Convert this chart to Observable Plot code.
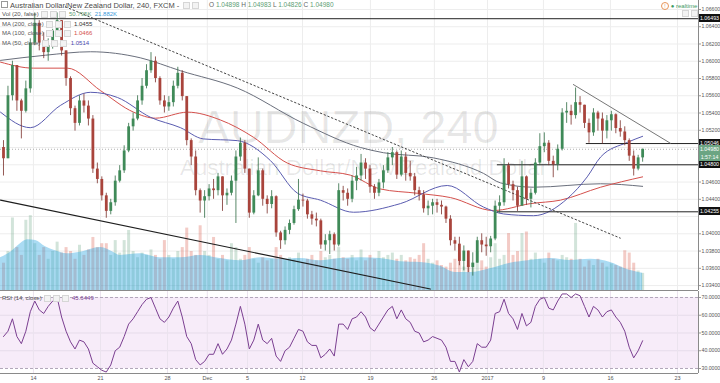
<!DOCTYPE html>
<html><head><meta charset="utf-8">
<script src="https://cdn.jsdelivr.net/npm/d3@7"></script>
<script src="https://cdn.jsdelivr.net/npm/@observablehq/plot@0.6"></script>
<style>
body{margin:0;background:#fff;font-family:"Liberation Sans",Arial,sans-serif;}
#wrap{position:relative;width:720px;height:383px;overflow:hidden;background:#fff;}
#wrap svg{position:absolute;left:0;}
.t{position:absolute;white-space:nowrap;line-height:1;font-family:"Liberation Sans",Arial,sans-serif;}
.ic{display:inline-block;width:5px;height:5px;border:1px solid #d6d6d6;background:#f3f3f3;margin-left:2px;vertical-align:middle;}
.box{position:absolute;left:699px;width:21px;height:8px;color:#fff;font-size:5.3px;line-height:8px;text-align:center;font-family:"Liberation Sans",Arial,sans-serif;}
</style></head><body><div id="wrap"></div>
<script>
// ---- data ----
const firstOpen = 1.0500;
const closes = [
1.0487,1.0560,1.0595,1.0554,1.0542,1.0568,1.0621,1.0644,1.0621,1.0610,
1.0618,1.0635,1.0647,1.0612,1.0580,1.0545,1.0528,1.0554,1.0548,1.0533,
1.0475,1.0463,1.0444,1.0426,1.0436,1.0461,1.0473,1.0496,1.0524,1.0533,
1.0554,1.0571,1.0589,1.0600,1.0580,1.0554,1.0547,1.0552,1.0571,1.0586,
1.0559,1.0508,1.0489,1.0450,1.0438,1.0443,1.0452,1.0450,1.0466,1.0444,
1.0447,1.0461,1.0489,1.0505,1.0475,1.0424,1.0444,1.0473,1.0440,1.0434,
1.0443,1.0401,1.0392,1.0404,1.0412,1.0428,1.0439,1.0438,1.0422,1.0417,
1.0415,1.0387,1.0392,1.0399,1.0387,1.0450,1.0447,1.0440,1.0461,1.0467,
1.0482,1.0475,1.0454,1.0447,1.0459,1.0473,1.0488,1.0494,1.0468,1.0489,
1.0470,1.0466,1.0450,1.0445,1.0429,1.0432,1.0436,1.0433,1.0431,1.0417,
1.0392,1.0388,1.0368,1.0380,1.0361,1.0366,1.0392,1.0387,1.0385,1.0394,
1.0432,1.0436,1.0479,1.0457,1.0450,1.0432,1.0466,1.0440,1.0447,1.0482,
1.0501,1.0505,1.0484,1.0480,1.0498,1.0540,1.0542,1.0537,1.0552,1.0549,
1.0528,1.0517,1.0540,1.0533,1.0519,1.0531,1.0538,1.0522,1.0518,1.0508,
1.0490,1.0475,1.0488,1.0498];
const highs = [
1.0508,1.0571,1.0600,1.0595,1.0556,1.0577,1.0626,1.0656,1.0647,1.0633,
1.0626,1.0637,1.0656,1.0647,1.0612,1.0582,1.0548,1.0560,1.0562,1.0554,
1.0537,1.0482,1.0466,1.0447,1.0440,1.0467,1.0479,1.0502,1.0528,1.0540,
1.0560,1.0580,1.0596,1.0610,1.0605,1.0582,1.0560,1.0559,1.0577,1.0593,
1.0589,1.0556,1.0510,1.0496,1.0452,1.0450,1.0457,1.0463,1.0470,1.0466,
1.0452,1.0467,1.0496,1.0511,1.0508,1.0475,1.0450,1.0488,1.0475,1.0444,
1.0450,1.0444,1.0403,1.0408,1.0416,1.0432,1.0463,1.0446,1.0440,1.0426,
1.0424,1.0417,1.0399,1.0403,1.0401,1.0458,1.0455,1.0452,1.0467,1.0477,
1.0492,1.0487,1.0479,1.0457,1.0463,1.0479,1.0494,1.0500,1.0496,1.0496,
1.0494,1.0484,1.0470,1.0454,1.0450,1.0438,1.0440,1.0440,1.0438,1.0432,
1.0421,1.0396,1.0396,1.0386,1.0380,1.0378,1.0396,1.0400,1.0396,1.0397,
1.0438,1.0444,1.0487,1.0482,1.0461,1.0454,1.0484,1.0467,1.0452,1.0487,
1.0516,1.0517,1.0508,1.0490,1.0503,1.0545,1.0552,1.0549,1.0569,1.0559,
1.0549,1.0533,1.0545,1.0542,1.0540,1.0537,1.0542,1.0539,1.0531,1.0524,
1.0510,1.0496,1.0491,1.0498];
const lows = [
1.0467,1.0487,1.0554,1.0542,1.0510,1.0540,1.0563,1.0618,1.0612,1.0603,
1.0600,1.0614,1.0631,1.0606,1.0571,1.0537,1.0519,1.0525,1.0540,1.0525,
1.0470,1.0458,1.0438,1.0418,1.0422,1.0432,1.0459,1.0470,1.0494,1.0519,
1.0531,1.0549,1.0568,1.0586,1.0575,1.0549,1.0540,1.0542,1.0547,1.0568,
1.0554,1.0502,1.0479,1.0444,1.0424,1.0418,1.0438,1.0440,1.0444,1.0426,
1.0433,1.0444,1.0412,1.0484,1.0470,1.0418,1.0422,1.0443,1.0432,1.0423,
1.0429,1.0396,1.0382,1.0387,1.0399,1.0410,1.0426,1.0431,1.0417,1.0410,
1.0408,1.0382,1.0380,1.0376,1.0380,1.0385,1.0438,1.0432,1.0436,1.0450,
1.0461,1.0463,1.0447,1.0440,1.0443,1.0452,1.0470,1.0479,1.0463,1.0466,
1.0461,1.0461,1.0444,1.0438,1.0424,1.0421,1.0422,1.0424,1.0422,1.0412,
1.0386,1.0380,1.0363,1.0357,1.0355,1.0351,1.0366,1.0378,1.0374,1.0378,
1.0392,1.0424,1.0432,1.0452,1.0438,1.0426,1.0432,1.0433,1.0430,1.0445,
1.0479,1.0494,1.0479,1.0465,1.0473,1.0496,1.0528,1.0526,1.0533,1.0540,
1.0522,1.0505,1.0513,1.0519,1.0504,1.0510,1.0519,1.0516,1.0512,1.0502,
1.0484,1.0467,1.0473,1.0483];
const volumesK = [
35,50,93,55,45,90,96,60,45,55,
40,50,62,48,55,50,40,58,45,52,
68,55,60,60,45,64,48,64,77,50,
42,48,45,52,45,40,64,45,40,50,
55,80,50,45,83,50,45,68,40,45,
38,60,55,40,45,55,40,35,42,38,
40,55,45,38,42,40,48,35,40,45,
38,50,42,45,40,55,42,40,45,38,
52,38,45,40,50,42,45,48,40,45,
38,42,40,45,60,40,35,38,32,30,
35,40,48,30,32,35,50,38,30,42,
60,40,45,73,45,50,73,75,40,48,
40,35,48,40,38,45,42,40,86,40,
30,38,32,40,35,30,34,32,30,51,
48,35,25,22];
const volMA = [[-0.67,42],[1.6,49],[3.8,60],[5.4,65],[7.2,64],[9.4,56],[11.6,51],[14.3,47],[17.2,49],[21.7,55],[23.9,51],[26.2,45],[30.6,47],[35.1,42],[39.6,42],[44.1,45],[48.5,41],[53,38],[57.5,42],[62,40],[66.4,41],[70.9,38],[75.4,41],[79.9,42],[84.3,41],[88.8,37],[93.3,36],[97.8,31],[101.1,23],[104.5,23],[108.9,28],[113.4,35],[117.9,38.5],[122.4,41],[126.8,38.5],[131.3,40],[135.8,36],[139.1,28],[143,22]];
const rsiValues = [
48,51,58,48,44,51,62,68,63,61,
65,68,70,59,51,45,41,46,45,41,
33,31,29,28,32,40,42,48,55,58,
62,66,69,70,64,58,56,59,64,68,
59,48,44,35,32,34,38,38,44,38,
41,46,55,65,55,41,46,55,46,44,
47,37,34,40,42,47,52,51,45,43,
43,36,38,41,37,55,55,52,58,59,
62,59,53,51,55,59,63,65,58,63,
58,56,51,50,45,46,48,47,46,42,
34,34,28,35,31,34,44,42,42,46,
61,62,69,61,58,52,61,54,56,65,
69,70,64,63,68,72,72,70,72,71,
65,59,65,63,59,62,63,59,56,51,
42,36,40,45.64];
const ma200 = [[-0.67,1.0601],[9.4,1.0607],[19.5,1.0611],[30.6,1.0604],[39.6,1.0589],[52.3,1.0569],[67.1,1.0528],[79.9,1.0500],[85.0,1.0494],[96.2,1.0488],[107.4,1.0470],[111.2,1.0459],[118.6,1.0454],[133.6,1.0458],[143,1.0455]];
const ma100 = [[-0.67,1.0599],[6.7,1.0592],[14.3,1.0592],[21.7,1.0566],[29.1,1.0541],[34.0,1.0534],[41.2,1.0541],[48.5,1.0532],[55.9,1.0512],[63.5,1.0482],[70.9,1.0473],[77.6,1.0468],[84.3,1.0452],[92.6,1.0447],[100,1.0442],[109.6,1.0427],[117.9,1.0435],[124.6,1.0439],[133.6,1.0454],[143,1.0466]];
const ma50 = [[-0.67,1.0541],[6.0,1.0523],[12.8,1.0549],[19.5,1.0564],[25.5,1.0558],[32.9,1.0535],[39.6,1.0523],[44.7,1.0510],[52.3,1.0508],[59.7,1.0485],[65.8,1.0447],[70.9,1.0439],[78.3,1.0425],[88.8,1.0435],[99.3,1.0456],[107.4,1.0431],[111.9,1.0423],[118.6,1.0421],[126.2,1.0441],[130.6,1.0466],[133.6,1.0489],[139.6,1.0506],[143,1.0513]];
const trendSolid = [[-0.67,1.0439],[95.5,1.0336]];
const trendDotted = [[13.9,1.0663],[138,1.0395]];
const trendUpper = [[127.5,1.0573],[149.2,1.0505]];
const levels = [1.06493, 1.05046, 1.048, 1.04255];
const levelStart = [-0.67, 130.4, 110.5, 110.5];
const lastPrice = 1.0498;
const countdown = "1:57:14";
const priceGrid = [1.034,1.036,1.038,1.040,1.042,1.044,1.046,1.048,1.050,1.052,1.054,1.056,1.058,1.060,1.062,1.064,1.066];
const priceTickLabels = [1.034,1.036,1.038,1.040,1.044,1.046,1.052,1.054,1.056,1.058,1.060,1.062,1.064,1.066];
const xTickIdx = [6.7,21.7,36.7,45.6,54.6,66.9,82.1,96.4,108.3,120.8,135.8,150.8];
const xTickLabels = ["14","21","28","Dec","5","12","19","26","2017","9","16","23"];
const rsiGrid = [40,50,60];
const rsiBands = [30,70];
const rsiTicks = [30,40,50,60,70];

// ---- build ----
const X_DOMAIN = [-0.67, 155.5];
const P_DOMAIN = [1.03343, 1.06704];
const FONT = "Liberation Sans, Arial, sans-serif";
const baseStyle = {background:"transparent", overflow:"visible", fontFamily: FONT};
const candles = closes.map((c,i) => {
  const o = i === 0 ? firstOpen : closes[i-1];
  return {i, o, c, hi: Math.max(highs[i], o, c), lo: Math.min(lows[i], o, c), up: c >= o, vol: volumesK[i], rsi: rsiValues[i]};
});
const pairs = a => a.map(([x,y]) => ({x,y}));
const wrap = document.getElementById("wrap");
const common = {width:720, height:290, marginTop:0, marginBottom:0, marginLeft:0, marginRight:22,
  x:{domain:X_DOMAIN, axis:null}, style: baseStyle};

const gridPlot = Plot.plot({...common,
  y:{domain:P_DOMAIN, axis:null},
  marks:[
    Plot.ruleY(priceGrid, {stroke:"#ededed"}),
    Plot.ruleX(xTickIdx, {stroke:"#ededed"}),
    Plot.text(["AUDNZD, 240"], {frameAnchor:"middle", dx:-1, dy:-18, fontSize:47, fill:"#000", fillOpacity:0.09, fontFamily:FONT}),
    Plot.text(["Australian Dollar/New Zealand Dollar"], {frameAnchor:"middle", dx:14, dy:22, fontSize:22.4, fill:"#000", fillOpacity:0.09, fontFamily:FONT})
  ]});
gridPlot.style.top = "0px"; wrap.appendChild(gridPlot);

const volPlot = Plot.plot({...common,
  y:{domain:[0, 371.8], axis:null},
  marks:[
    Plot.ruleX(candles, {x:"i", y1:0, y2:"vol", strokeWidth:3, stroke: d => d.up ? "#6ba583" : "#d75442", strokeOpacity:0.3}),
    Plot.areaY(pairs(volMA), {x:"x", y:"y", curve:"monotone-x", fill:"#2aa4e0", fillOpacity:0.4})
  ]});
volPlot.style.top = "0px"; wrap.appendChild(volPlot);

const pricePlot = Plot.plot({...common,
  y:{domain:P_DOMAIN, axis:null, label:null},
  marks:[
    Plot.ruleY([lastPrice], {stroke:"#b0b0b0", strokeDasharray:"1,2"}),
    Plot.line(pairs(ma200), {x:"x", y:"y", curve:"monotone-x", stroke:"#6a6f7c", strokeWidth:1}),
    Plot.line(pairs(ma100), {x:"x", y:"y", curve:"monotone-x", stroke:"#d4504c", strokeWidth:1}),
    Plot.line(pairs(ma50), {x:"x", y:"y", curve:"monotone-x", stroke:"#5a5cb0", strokeWidth:1}),
    Plot.ruleY(levels.map((v,k) => ({v, x1:levelStart[k]})), {y:"v", x1:"x1", x2:X_DOMAIN[1], stroke:"#222", strokeWidth:1}),
    Plot.line(pairs(trendSolid), {x:"x", y:"y", stroke:"#1e1e1e", strokeWidth:1.2}),
    Plot.line(pairs(trendDotted), {x:"x", y:"y", stroke:"#444", strokeWidth:1, strokeDasharray:"1.5,2.5"}),
    Plot.line(pairs(trendUpper), {x:"x", y:"y", stroke:"#777", strokeWidth:1}),
    Plot.ruleX(candles, {x:"i", y1:"lo", y2:"hi", stroke: d => d.up ? "#2f6b43" : "#7a2f2a", strokeWidth:0.8}),
    Plot.ruleX(candles, {x:"i", y1:"o", y2:"c", stroke: d => d.up ? "#3f8a58" : "#a9443c", strokeWidth:2.8}),
    Plot.ruleX([X_DOMAIN[1]], {stroke:"#8a8a8a"}),
    Plot.ruleY([P_DOMAIN[0]], {stroke:"#8a8a8a"}),
    Plot.axisY(priceTickLabels, {anchor:"right", label:null, tickSize:2, tickPadding:1, tickFormat:d3.format(".5f"), fontSize:5.2, fill:"#555", stroke:"#999"})
  ]});
pricePlot.style.top = "0px"; wrap.appendChild(pricePlot);

const labelOf = new Map(xTickIdx.map((d,k) => [d, xTickLabels[k]]));
const rsiPlot = Plot.plot({width:720, height:93, marginTop:0, marginBottom:11, marginLeft:0, marginRight:22,
  x:{domain:X_DOMAIN, axis:null, label:null}, y:{domain:[27.18, 73.38], axis:null, label:null}, style: baseStyle,
  marks:[
    Plot.rect([rsiBands], {y1:d => d[0], y2:d => d[1], fill:"#b040c0", fillOpacity:0.1}),
    Plot.ruleY(rsiGrid, {stroke:"#e6dcea"}),
    Plot.ruleX(xTickIdx, {stroke:"#ebe3ee"}),
    Plot.ruleY(rsiBands, {stroke:"#b3a6bb", strokeDasharray:"3,2"}),
    Plot.line(candles, {x:"i", y:"rsi", stroke:"#7b3f91", strokeWidth:1}),
    Plot.ruleX([X_DOMAIN[1]], {stroke:"#8a8a8a"}),
    Plot.ruleY([27.18], {stroke:"#8a8a8a"}),
    Plot.axisY(rsiTicks, {anchor:"right", label:null, tickSize:2, tickPadding:1, tickFormat:d3.format(".4f"), fontSize:5.2, fill:"#555", stroke:"#999"}),
    Plot.axisX(xTickIdx, {anchor:"bottom", label:null, tickSize:0, tickPadding:3, tickFormat:d => labelOf.get(d), fontSize:5.5, fill:"#555"})
  ]});
rsiPlot.style.top = "291px"; wrap.appendChild(rsiPlot);

// ---- html text overlays ----
function addText(html, left, top, size, color) {
  const el = document.createElement("div");
  el.className = "t"; el.innerHTML = html;
  el.style.left = left + "px"; el.style.top = top + "px";
  el.style.fontSize = size + "px"; el.style.color = color;
  wrap.appendChild(el); return el;
}
const ic = '<span class="ic"></span>';
addText('<span style="display:inline-block;width:5px;height:5px;border:1px solid #999;"></span>', 1, 1, 7, "#666");
addText('Australian Dollar/New Zealand Dollar, 240, FXCM - ' + ic + ic, 10, 1.5, 7.5, "#4a4a4a");
const ohlcCol = "#5d9e74";
addText('O <span style="color:'+ohlcCol+'">1.04898</span> H <span style="color:'+ohlcCol+'">1.04983</span> L <span style="color:'+ohlcCol+'">1.04826</span> C <span style="color:'+ohlcCol+'">1.04980</span>', 209, 2, 6.5, "#666");
addText('Vol (20, false)' + ic + ic + ic + '&nbsp;&nbsp;<span style="color:#5d9e74">50.795K</span>&nbsp;&nbsp;<span style="color:#3a9ad9">21.882K</span>', 2, 11, 6, "#555");
addText('MA (200, close)' + ic + ic + ic + '&nbsp;&nbsp;<span style="color:#333">1.0455</span>', 2, 21, 6, "#555");
addText('MA (100, close)' + ic + ic + ic + '&nbsp;&nbsp;<span style="color:#d4504c">1.0466</span>', 2, 30, 6, "#555");
addText('MA (50, close)' + ic + ic + ic + '&nbsp;&nbsp;<span style="color:#4a4cb0">1.0514</span>', 2, 40, 6, "#555");
addText('RSI (14, close)' + ic + ic + ic + '&nbsp;&nbsp;<span style="color:#7b3f91">45.6449</span>', 2, 295, 6, "#555");
addText('<span style="display:inline-block;width:6px;height:6px;border:1px solid #e8955a;border-radius:50%;color:#e8955a;font-size:5px;line-height:6px;text-align:center;">!</span> <span style="color:#3c9a5f">&#9679;</span> realtime', 661, 2, 6, "#3c9a5f");
addText(ic + ic, 680, 10, 6, "#555");

const yS = pricePlot.scale("y");
function addBox(text, top, bg) {
  const el = document.createElement("div");
  el.className = "box"; el.textContent = text;
  el.style.top = top + "px"; el.style.background = bg;
  wrap.appendChild(el);
}
const fmt5 = d3.format(".5f");
levels.forEach(v => addBox(fmt5(v), yS.apply(v) - 4, "#111"));
addBox(fmt5(lastPrice), yS.apply(lastPrice) - 4, "#6ba583");
addBox(countdown, yS.apply(lastPrice) + 4, "#6ba583");
</script></body></html>
